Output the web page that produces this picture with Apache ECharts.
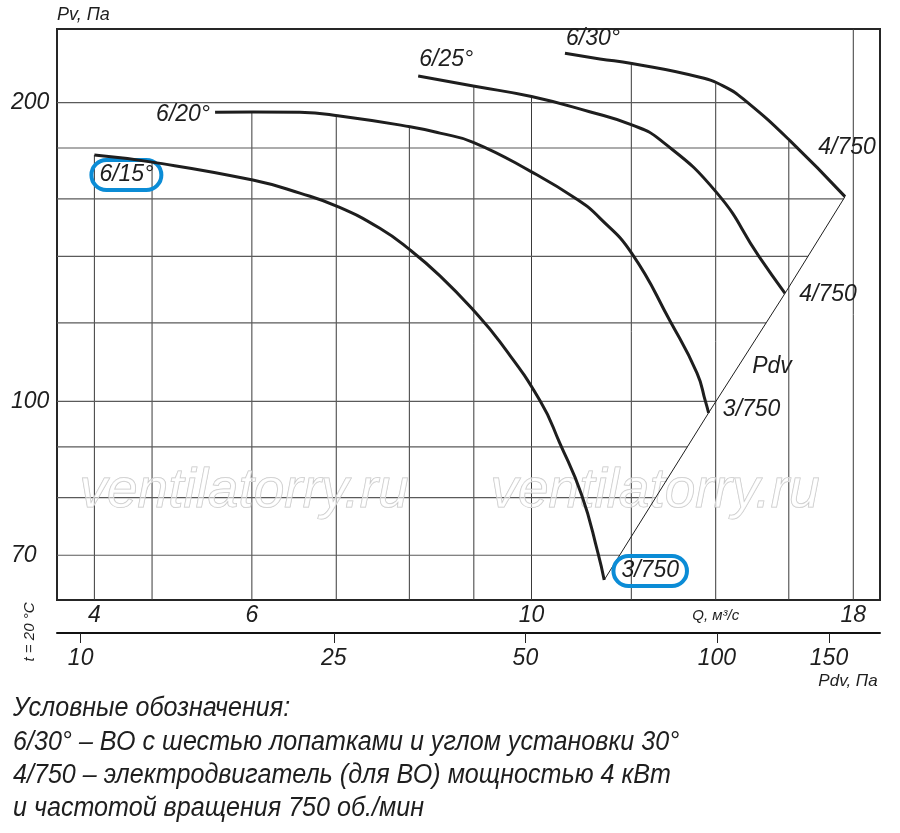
<!DOCTYPE html>
<html>
<head>
<meta charset="utf-8">
<script src="https://cdn.jsdelivr.net/npm/echarts@6/dist/echarts.min.js"></script>
<style>html,body{margin:0;padding:0;background:#fff}#c{width:900px;height:833px}</style>
</head>
<body>
<div id="c"></div>
<script>
// ---------- axis ranges & ticks ----------
const qMin = 4.203, qMax = 18.90;      // Q, m3/s (log)
const pMin = 63.1,  pMax = 237.2;      // Pv, Pa (log)
const pdvMin = 9.18, pdvMax = 180.4;   // Pdv, Pa (log)

const qTickValues = [4.5, 6, 10, 14, 18];
const qTickLabels = ['4', '6', '10', 'Q, м³/с', '18'];
const pTickValues = [70, 100, 200];
const pdvTickValues = [10, 25, 50, 100, 150];
const qGrid = [4.5, 5, 6, 7, 8, 9, 10, 12, 14, 16, 18];
const pGrid = [70, 80, 90, 100, 120, 140, 160, 180, 200];

// ---------- curves ----------
const curveNames = ['6/15°', '6/20°', '6/25°', '6/30°'];
const motorNames = ['3/750', '3/750', '4/750', '4/750'];

const q15 = [4.50, 5.00, 6.01, 6.55, 7.02, 7.58, 8.01, 8.46, 8.99, 9.44, 10.16, 10.53, 10.96, 11.29, 11.42];
const p15 = [177.1, 174.2, 167.1, 162.1, 157.1, 149.4, 142.1, 133.8, 123.6, 114.8, 100.1, 90.8, 80.5, 70.4, 66.1];

const q20 = [5.61, 6.01, 6.55, 7.02, 8.01, 8.46, 8.99, 10.0, 10.88, 11.33, 12.01, 12.88, 13.53, 13.74, 13.82];
const p20 = [195.5, 195.7, 195.5, 194.0, 189.1, 186.3, 182.4, 170.3, 159.6, 153.0, 141.0, 120.5, 106.8, 100.0, 97.4];

const q25 = [8.13, 8.99, 10.0, 11.12, 12.01, 12.65, 14.03, 15.15, 15.89];
const p25 = [212.7, 207.8, 202.8, 195.8, 189.9, 183.4, 162.2, 140.0, 128.5];

const q30 = [10.63, 11.33, 12.01, 13.6, 14.24, 14.77, 16.04, 17.73];
const p30 = [224.2, 221.3, 219.0, 212.1, 207.4, 201.0, 183.0, 160.8];

const curves = [[q15, p15], [q20, p20], [q25, p25], [q30, p30]];
// Pdv line joins the end points of the curves
const pdvQ = curves.map(c => c[0][c[0].length - 1]);
const pdvP = curves.map(c => c[1][c[1].length - 1]);

// ---------- presentation (positions/styles) ----------
const FONT = '"Liberation Sans", Arial, sans-serif';
const INK = '#1e1e1e';
const BLUE = '#0b8cd6';
const startOffsets = [[32, 20], [-32, 2], [28, -16], [28, -15]];
const endOffsets = [[46, -9], [43, -3], [43, 1], [2, -49]];
const startBoxed = [true, false, false, false];
const endBoxed = [true, false, false, false];

function interpLog(xs, ys, x) {
  for (let i = 0; i < xs.length - 1; i++) {
    const a = xs[i], b = xs[i + 1];
    if ((x - a) * (x - b) <= 0 && a !== b) {
      const t = (Math.log(x) - Math.log(a)) / (Math.log(b) - Math.log(a));
      return Math.exp(Math.log(ys[i]) + t * (Math.log(ys[i + 1]) - Math.log(ys[i])));
    }
  }
  return null;
}

const gridSeries = [];
const vStyle = { color: '#3a3a3a', width: 1 };
const hStyle = { color: '#5a5a5a', width: 1.2 };
function seg(pts, style) {
  return { type: 'line', data: pts, symbol: 'none', silent: true, lineStyle: style, z: 1, animation: false };
}
qGrid.forEach(q => {
  let top = null;
  curves.forEach(([qs, ps]) => {
    const v = interpLog(qs, ps, q);
    if (v != null && (top == null || v > top)) top = v;
  });
  if (top == null) top = pMax;
  gridSeries.push(seg([[q, pMin], [q, top]], vStyle));
});
// outer boundary: 6/30 curve then the Pdv line going down
const boundQ = q30.concat(pdvQ.slice().reverse().slice(1));
const boundP = p30.concat(pdvP.slice().reverse().slice(1));
pGrid.forEach(p => {
  let right = interpLog(boundP, boundQ, p);
  if (right == null) right = qMax;
  gridSeries.push(seg([[qMin, p], [right, p]], hStyle));
});

function mkLabel(text, offset, boxed) {
  const l = {
    show: true, position: 'inside', formatter: text, offset: offset,
    color: INK, fontSize: 23, fontStyle: 'italic', fontFamily: FONT, lineHeight: 24
  };
  if (boxed) Object.assign(l, { borderColor: BLUE, borderWidth: 4, borderRadius: 18, padding: [3, 8] });
  return l;
}

const curveSeries = curves.map(([qs, ps], i) => ({
  type: 'line',
  name: curveNames[i],
  data: qs.map((v, k) => [v, ps[k]]),
  smooth: 0.5,
  symbol: 'none',
  lineStyle: { color: INK, width: 3 },
  z: 5,
  animation: false,
  markPoint: {
    symbol: 'circle', symbolSize: 1, silent: true, animation: false,
    itemStyle: { color: 'rgba(0,0,0,0)' },
    data: [
      { coord: [qs[0], ps[0]], label: mkLabel(curveNames[i], startOffsets[i], startBoxed[i]) },
      { coord: [qs[qs.length - 1], ps[ps.length - 1]], label: mkLabel(motorNames[i], endOffsets[i], endBoxed[i]) }
    ]
  }
}));

const pdvSeries = {
  type: 'line', name: 'Pdv',
  data: pdvQ.map((v, k) => [v, pdvP[k]]),
  symbol: 'none', lineStyle: { color: INK, width: 1 }, z: 4, animation: false
};

function qLabel(v) {
  for (let i = 0; i < qTickValues.length; i++) {
    if (Math.abs(v - qTickValues[i]) < 1e-3 * qTickValues[i]) {
      return i === 3 ? '{u|' + qTickLabels[i] + '}' : qTickLabels[i];
    }
  }
  return '';
}

const labelStyle = { color: INK, fontSize: 23, fontStyle: 'italic', fontFamily: FONT };

const legendLines = [
  'Условные обозначения:',
  '6/30° – ВО с шестью лопатками и углом установки 30°',
  '4/750 – электродвигатель (для ВО) мощностью 4 кВт',
  'и частотой вращения 750 об./мин'
];

const graphics = [];
legendLines.forEach((t, i) => {
  graphics.push({
    type: 'text', x: 13, y: 708.6 + i * 33.4, scaleX: 0.93, originX: 0, silent: true,
    style: { text: t, font: 'italic 27px ' + FONT, fill: INK, textVerticalAlign: 'middle', textAlign: 'left' }
  });
});
['ventilatorry.ru', 'ventilatorry.ru'].forEach((t, i) => {
  graphics.push({
    type: 'text', x: [244, 655][i], y: 492, silent: true, z: 3,
    style: { text: t, font: 'italic 55px ' + FONT, fill: 'rgba(255,255,255,0.5)', stroke: '#c4c4c4', lineWidth: 1,
             textAlign: 'center', textVerticalAlign: 'middle' }
  });
});
graphics.push({
  type: 'text', x: 30, y: 632, rotation: Math.PI / 2, silent: true,
  style: { text: 't = 20 °C', font: 'italic 15px ' + FONT, fill: INK, textAlign: 'center', textVerticalAlign: 'middle' }
});
graphics.push({
  type: 'text', x: 848, y: 681, silent: true,
  style: { text: 'Pdv, Па', font: 'italic 17px ' + FONT, fill: INK, textAlign: 'center', textVerticalAlign: 'middle' }
});
graphics.push({
  type: 'text', x: 772, y: 367, silent: true, z: 10,
  style: { text: 'Pdv', font: 'italic 23px ' + FONT, fill: INK, textAlign: 'center', textVerticalAlign: 'middle' }
});

const chart = echarts.init(document.getElementById('c'));
chart.setOption({
  animation: false,
  backgroundColor: '#fff',
  grid: { left: 57, right: 20, top: 29, bottom: 233, show: true, borderColor: '#262626', borderWidth: 2, backgroundColor: 'transparent' },
  xAxis: [
    {
      type: 'log', min: qMin, max: qMax, position: 'bottom',
      axisLine: { show: false }, axisTick: { show: false }, splitLine: { show: false }, minorSplitLine: { show: false },
      axisLabel: Object.assign({ customValues: qTickValues, margin: 4, formatter: qLabel, showMinLabel: true, showMaxLabel: true,
        rich: { u: { fontSize: 15, lineHeight: 23, fontStyle: 'italic', fontFamily: FONT, color: INK } } }, labelStyle)
    },
    {
      type: 'log', min: pdvMin, max: pdvMax, position: 'bottom', offset: 33,
      axisLine: { show: true, lineStyle: { color: '#111', width: 2 } },
      axisTick: { show: true, customValues: pdvTickValues, length: 10, lineStyle: { color: '#222', width: 1 } },
      splitLine: { show: false },
      axisLabel: Object.assign({ customValues: pdvTickValues, margin: 14, formatter: v => String(Math.round(v)) }, labelStyle)
    }
  ],
  yAxis: {
    type: 'log', min: pMin, max: pMax,
    name: 'Pv, Па', nameLocation: 'end', nameGap: 14,
    nameTextStyle: { align: 'left', verticalAlign: 'middle', fontSize: 18, fontStyle: 'italic', fontFamily: FONT, color: INK },
    axisLine: { show: false }, axisTick: { show: false }, splitLine: { show: false },
    axisLabel: Object.assign({ customValues: pTickValues, align: 'left', margin: 46, formatter: v => String(Math.round(v)) }, labelStyle)
  },
  series: gridSeries.concat([pdvSeries]).concat(curveSeries),
  graphic: graphics
});
</script>
</body>
</html>
